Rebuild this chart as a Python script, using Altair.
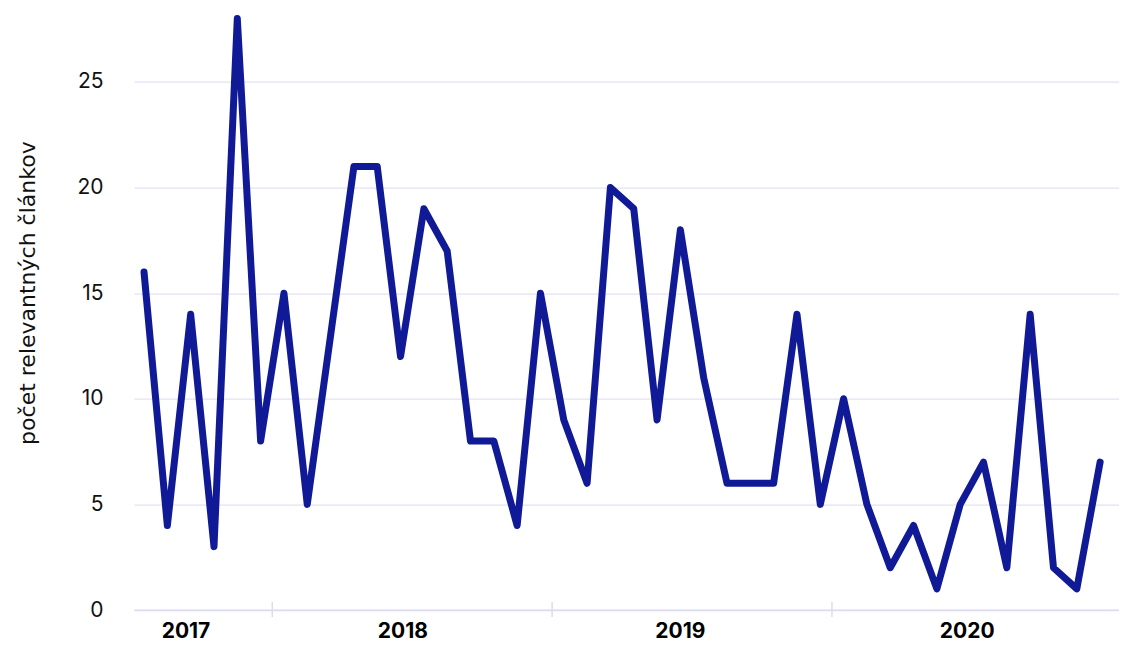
import altair as alt
import pandas as pd

# Monthly counts, July 2017 .. December 2020
months = [
    "2017-07", "2017-08", "2017-09", "2017-10", "2017-11", "2017-12",
    "2018-01", "2018-02", "2018-03", "2018-04", "2018-05", "2018-06",
    "2018-07", "2018-08", "2018-09", "2018-10", "2018-11", "2018-12",
    "2019-01", "2019-02", "2019-03", "2019-04", "2019-05", "2019-06",
    "2019-07", "2019-08", "2019-09", "2019-10", "2019-11", "2019-12",
    "2020-01", "2020-02", "2020-03", "2020-04", "2020-05", "2020-06",
    "2020-07", "2020-08", "2020-09", "2020-10", "2020-11", "2020-12",
]
counts = [
    16, 4, 14, 3, 28, 8,
    15, 5, 13, 21, 21, 12, 19, 17, 8, 8, 4, 15,
    9, 6, 20, 19, 9, 18, 11, 6, 6, 6, 14, 5,
    10, 5, 2, 4, 1, 5, 7, 2, 14, 2, 1, 7,
]

# year labels and where they sit (in month-index units)
year_labels = ["2017", "2018", "2019", "2020"]
year_label_at = [1.8, 11.1, 23.0, 35.3]
# year boundaries (between December and January)
year_breaks = [5.5, 17.5, 29.5]

y_ticks = [0, 5, 10, 15, 20, 25]

df = pd.DataFrame({"i": list(range(len(months))), "month": months, "n": counts})
labels_df = pd.DataFrame({"i": year_label_at, "year": year_labels})
breaks_df = pd.DataFrame({"i": year_breaks})

W = 985
H = 591.4
FONT = "Inter"
GRID = "#dcdbf1"
LINE = "#111a96"

xscale = alt.Scale(domain=[-0.43, 41.81], nice=False, zero=False)
yscale = alt.Scale(domain=[0, 28], nice=False)

line = alt.Chart(df).mark_line(
    color=LINE, strokeWidth=7, strokeJoin="round", strokeCap="round"
).encode(
    x=alt.X("i:Q", scale=xscale,
            axis=alt.Axis(values=year_breaks, labels=False, ticks=False, grid=False,
                          domain=True, domainColor=GRID, domainWidth=1.5, title=None)),
    y=alt.Y("n:Q", scale=yscale,
            axis=alt.Axis(values=y_ticks, grid=True, gridColor=GRID, gridWidth=1,
                          domain=False, ticks=False, labelPadding=31,
                          labelFont=FONT, labelFontSize=21, labelColor="#111111",
                          title="počet relevantných článkov", titleFont="DejaVu Sans",
                          titleFontSize=22, titleFontWeight="normal", titleColor="#111111",
                          titleAngle=270, titleAlign="center", titleBaseline="middle",
                          titleX=-107, titleY=274)),
)

ticks = alt.Chart(breaks_df).mark_rule(color=GRID, strokeWidth=1.5).encode(
    x=alt.X("i:Q", scale=xscale),
    y=alt.value(H - 8),
    y2=alt.value(H + 7),
)

year_text = alt.Chart(labels_df).mark_text(
    font=FONT, fontSize=21, fontWeight="bold", color="#000000",
    align="center", baseline="middle",
).encode(
    x=alt.X("i:Q", scale=xscale),
    y=alt.value(H + 22),
    text="year:N",
)

chart = alt.layer(ticks, line, year_text).properties(
    width=W, height=H,
    autosize=alt.AutoSizeParams(type="none"),
    padding={"left": 126, "top": 10.6, "right": 0, "bottom": 32},
).configure(background="white").configure_view(stroke=None)

chart.save("out.html", embed_options={"renderer": "svg", "actions": False})
